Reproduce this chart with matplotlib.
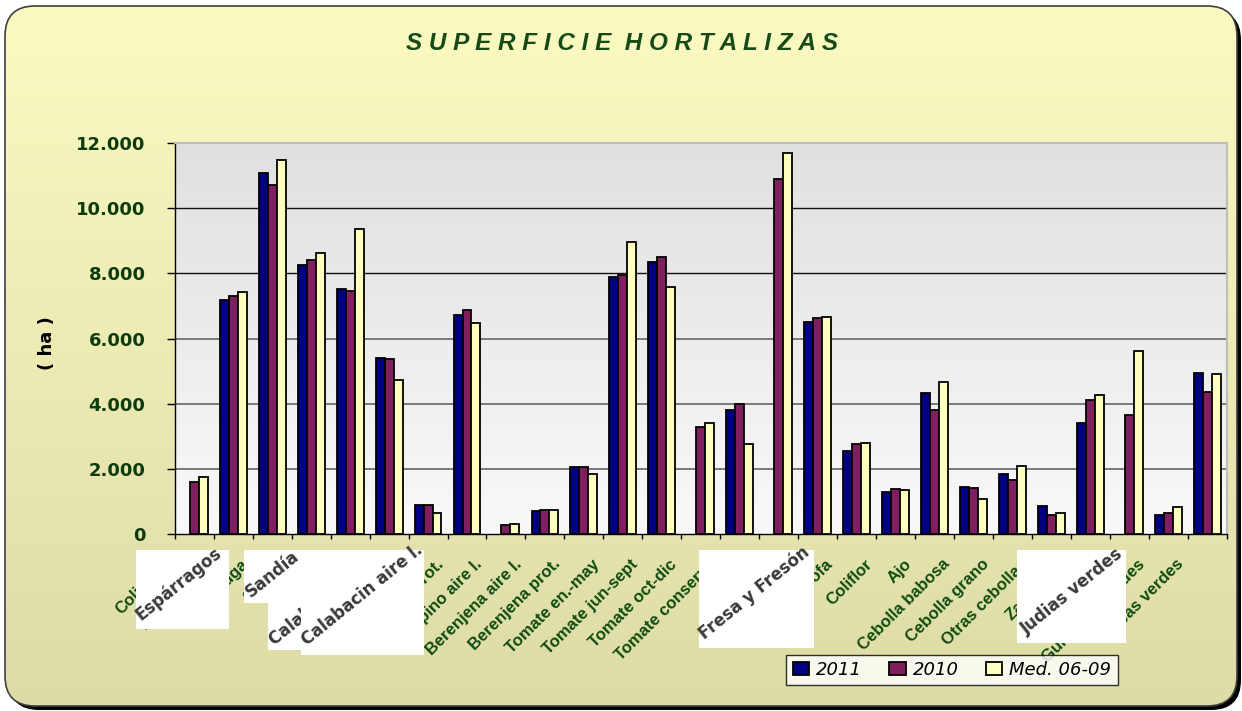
import numpy as np
import matplotlib
matplotlib.use("Agg")
import matplotlib.pyplot as plt
from matplotlib.patches import FancyBboxPatch, Rectangle
from matplotlib.colors import LinearSegmentedColormap
from matplotlib.transforms import ScaledTranslation

nan = np.nan

categories = ["Colinabo", "Espárragos", "Lechuga", "Sandía", "Melón",
              "Calabacín prot.", "Calabacín aire l.", "Pepino prot.", "Pepino aire l.",
              "Berenjena aire l.", "Berenjena prot.", "Tomate en.-may", "Tomate jun-sept",
              "Tomate oct-dic", "Tomate conserva", "Pimiento", "Fresa y Fresón",
              "Alcachofa", "Coliflor", "Ajo", "Cebolla babosa", "Cebolla grano",
              "Otras cebollas", "Zanahoria", "Judías verdes", "Guisantes verdes", "Habas verdes"]

v2011 = [nan, 7190, 11090, 8270, 7510, 5390, 890, 6730, nan, 710, 2050, 7880, 8340,
         nan, 3820, nan, 6520, 2540, 1300, 4330, 1450, 1830, 850, 3400, nan, 590, 4930]
v2010 = [1590, 7300, 10700, 8400, 7455, 5370, 890, 6880, 270, 730, 2070, 7940, 8510,
         3270, 3980, 10910, 6640, 2775, 1370, 3810, 1410, 1660, 595, 4100, 3645, 655, 4350]
vmed = [1750, 7430, 11470, 8610, 9370, 4730, 635, 6480, 320, 740, 1850, 8960, 7570,
        3400, 2775, 11700, 6660, 2785, 1340, 4660, 1085, 2090, 645, 4270, 5620, 830, 4925]

series_names = ["2011", "2010", "Med. 06-09"]
series_colors = ["#000080", "#7F1F5F", "#FFFFC0"]
yticks = [0, 2000, 4000, 6000, 8000, 10000, 12000]
ytick_labels = ["0", "2.000", "4.000", "6.000", "8.000", "10.000", "12.000"]

# overlay (pasted) boxes: (x0, y0, x1, y1) in pixels, text, text start
boxes = [
    ((136, 550, 229, 629), "Espárragos", (141, 621)),
    ((244, 550, 301, 603), "Sandía", (251, 598)),
    ((268, 603, 301, 650), "Calabacín prot.", (274, 646)),
    ((301, 550, 424, 655), "Calabacin aire l.", (307, 646)),
    ((699, 550, 814, 648), "Fresa y Fresón", (704, 640)),
    ((1017, 550, 1126, 643), "Judias verdes", (1026, 635)),
]

W, H = 1242, 711
fig = plt.figure(figsize=(W / 100, H / 100), dpi=100)
fig.patch.set_facecolor("white")

# background frame
bg = fig.add_axes([0, 0, 1, 1], zorder=-10)
bg.set_xlim(0, W)
bg.set_ylim(H, 0)
bg.axis("off")
shadow = FancyBboxPatch((9, 10), 1232, 700, boxstyle="round,pad=0,rounding_size=30",
                        fc="black", ec="none")
bg.add_patch(shadow)
frame = FancyBboxPatch((5, 6), 1232, 700, boxstyle="round,pad=0,rounding_size=30",
                       fc="none", ec="#404040", lw=1.2, zorder=3)
bg.add_patch(frame)
ycmap = LinearSegmentedColormap.from_list("yb", ["#FBFAC1", "#DDDCA7"])
im = bg.imshow(np.linspace(0, 1, 256).reshape(-1, 1), extent=(5, 1237, 706, 6),
               cmap=ycmap, aspect="auto", origin="upper", zorder=2)
clipper = FancyBboxPatch((5, 6), 1232, 700, boxstyle="round,pad=0,rounding_size=30",
                         fc="none", ec="none", transform=bg.transData)
im.set_clip_path(clipper)

# main axes
x0, x1, ytop, ybot = 174.7, 1227, 143, 534
ax = fig.add_axes([x0 / W, 1 - ybot / H, (x1 - x0) / W, (ybot - ytop) / H])
n = len(categories)
ax.set_xlim(0, n)
ax.set_ylim(0, 12000)
gcmap = LinearSegmentedColormap.from_list("gg", ["#F9F9F9", "#E0E0E0"])
ax.imshow(np.linspace(0, 1, 256).reshape(-1, 1), extent=(0, n, 0, 12000),
          cmap=gcmap, aspect="auto", origin="lower", zorder=0)
for yv in [2000, 4000, 6000]:
    ax.axhline(yv, color="#707070", lw=1.3, zorder=1)
for yv in [8000, 10000]:
    ax.axhline(yv, color="#111111", lw=1.0, zorder=1)

x = np.arange(n) + 0.5
bw = 0.23
bars = []
for k, (vals, col) in enumerate(zip([v2011, v2010, vmed], series_colors)):
    b = ax.bar(x + (k - 1) * bw, vals, width=bw, color=col, edgecolor="black",
               linewidth=1.3, zorder=3)
    bars.append(b)

for s in ["left", "bottom"]:
    ax.spines[s].set_color("black")
    ax.spines[s].set_linewidth(1.0)
for s in ["top", "right"]:
    ax.spines[s].set_color("#BDBDBD")
    ax.spines[s].set_linewidth(1.5)

ax.set_yticks(yticks)
ax.set_yticklabels(ytick_labels, fontsize=13, fontweight="bold", color="#0E3B0E",
                   family="DejaVu Sans")
ax.tick_params(axis="y", direction="out", length=6, width=1, pad=15)

ax.set_xticks(np.arange(n + 1))
ax.set_xticklabels([])
ax.tick_params(axis="x", which="major", direction="out", length=3.5, width=1)
ax.set_xticks(x, minor=True)
ax.set_xticklabels(categories, minor=True, rotation=45, ha="right", va="center",
                   rotation_mode="anchor", fontsize=12, fontweight="bold",
                   color="#0F4A0F", family="Liberation Sans")
ax.tick_params(axis="x", which="minor", length=0, pad=20)
shift = ScaledTranslation(-26 / 100, 0, fig.dpi_scale_trans)
for lbl in ax.get_xticklabels(minor=True):
    lbl.set_transform(lbl.get_transform() + shift)

leg = ax.legend(bars, series_names, loc="center", bbox_to_anchor=(952 / W, 1 - 670 / H),
                bbox_transform=fig.transFigure, ncol=3, frameon=True, fancybox=False,
                edgecolor="black", prop=dict(family="DejaVu Sans", style="italic", size=13),
                handlelength=0.9, handleheight=0.7, handletextpad=0.4,
                columnspacing=1.5, borderpad=0.35)
leg.get_frame().set_linewidth(1.0)
leg.get_frame().set_facecolor("white")

title = "SUPERFICIE HORTALIZAS"
spaced = "  ".join(" ".join(w) for w in title.split(" "))
fig.text(622 / W, 1 - 44 / H, spaced, ha="center",
         va="center", fontsize=17.5, fontweight="bold", style="italic", color="#164A16",
         family="Liberation Sans")
fig.text(47 / W, 1 - 343 / H, "( ha )", ha="center", va="center", rotation=90,
         fontsize=13, fontweight="bold", color="black", family="DejaVu Sans")

# overlay pasted boxes
ov = fig.add_axes([0, 0, 1, 1], zorder=10)
ov.set_xlim(0, W)
ov.set_ylim(H, 0)
ov.axis("off")
ov.patch.set_alpha(0)
z = 1
for (bx0, by0, bx1, by1), txt, (tx, ty) in boxes:
    r = Rectangle((bx0, by0), bx1 - bx0, by1 - by0, fc="white", ec="none", zorder=z)
    ov.add_patch(r)
    t = ov.text(tx, ty, txt, rotation=39, rotation_mode="anchor", ha="left",
                va="baseline", fontsize=12, fontweight="bold", color="#3A3A3A",
                family="DejaVu Sans", zorder=z + 0.5)
    t.set_clip_path(r)
    z += 1

fig.savefig("out.png", dpi=100)
